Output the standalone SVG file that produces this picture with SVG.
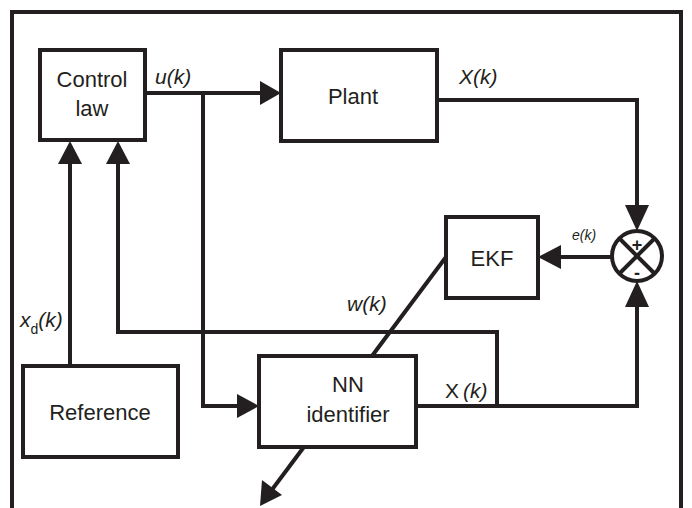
<svg xmlns="http://www.w3.org/2000/svg" width="692" height="508" viewBox="0 0 692 508">
<style>
.box{fill:#fff;stroke:#231f20;stroke-width:4}
.ln{fill:none;stroke:#231f20;stroke-width:4}
.t{font-family:"Liberation Sans",Arial,sans-serif;font-size:22px;fill:#231f20;text-anchor:middle}
.i{font-family:"Liberation Sans",Arial,sans-serif;font-size:21px;fill:#231f20;font-style:italic}
.ah{fill:#231f20}
</style>
<rect width="692" height="508" fill="#fff"/>
<g id="frame"><polyline class="ln" points="12,508 12,12 681,12 681,508"/></g>
<g id="connectors">
<line class="ln" x1="146" y1="93" x2="264" y2="93"/>
<polygon class="ah" points="281,93 260,81 260,105"/>
<polyline class="ln" points="203,93 203,406 240,406"/>
<polygon class="ah" points="259,406 237,394 237,418"/>
<polyline class="ln" points="437,100 637,100 637,210"/>
<polygon class="ah" points="637,231 625,205 649,205"/>
<polyline class="ln" points="416,406 637,406 637,302"/>
<polygon class="ah" points="637,281 625,307 649,307"/>
<line class="ln" x1="612" y1="257" x2="556" y2="257"/>
<polygon class="ah" points="538,257 561,245 561,269"/>
<polyline class="ln" points="497,406 497,332 118,332 118,160"/>
<polygon class="ah" points="118,141 106,164 130,164"/>
<line class="ln" x1="70" y1="366" x2="70" y2="160"/>
<polygon class="ah" points="70,141 58,164 82,164"/>
<line class="ln" x1="446" y1="257" x2="271" y2="491"/>
<polygon class="ah" points="260,506 262,480 282,495"/>
</g>
<g id="control-law"><rect class="box" x="40" y="50" width="105" height="90"/><text class="t" x="92" y="87">Control</text><text class="t" x="92" y="116">law</text></g>
<g id="plant"><rect class="box" x="281" y="50" width="156" height="91"/><text class="t" x="353" y="104">Plant</text></g>
<g id="ekf"><rect class="box" x="446" y="217" width="92" height="81"/><text class="t" x="492" y="266">EKF</text></g>
<g id="sum"><circle class="box" cx="637" cy="256" r="25"/><line class="ln" x1="619" y1="238" x2="655" y2="274" stroke-width="3"/><line class="ln" x1="655" y1="238" x2="619" y2="274" stroke-width="3"/><text class="t" x="637" y="251" style="font-size:18px;font-weight:bold">+</text><text class="t" x="637" y="279" style="font-size:18px;font-weight:bold">-</text></g>
<g id="reference"><rect class="box" x="23" y="366" width="155" height="91"/><text class="t" x="100" y="420">Reference</text></g>
<g id="nn-identifier"><rect class="box" x="259" y="356" width="157" height="91"/><text class="t" x="348" y="392">NN</text><text class="t" x="348" y="422">identifier</text></g>
<g id="labels">
<text class="i" x="155" y="84">u(k)</text>
<text class="i" x="459" y="84">X(k)</text>
<text class="i" x="572" y="240" style="font-size:14px">e(k)</text>
<text class="i" x="347" y="311">w(k)</text>
<text class="t" x="452" y="398" style="font-size:21px">X</text><text class="i" x="463" y="398">(k)</text>
<text class="i" x="20" y="327">x<tspan style="font-size:14px;font-style:normal" dy="7">d</tspan><tspan dy="-7">(k)</tspan></text>
</g>
</svg>
